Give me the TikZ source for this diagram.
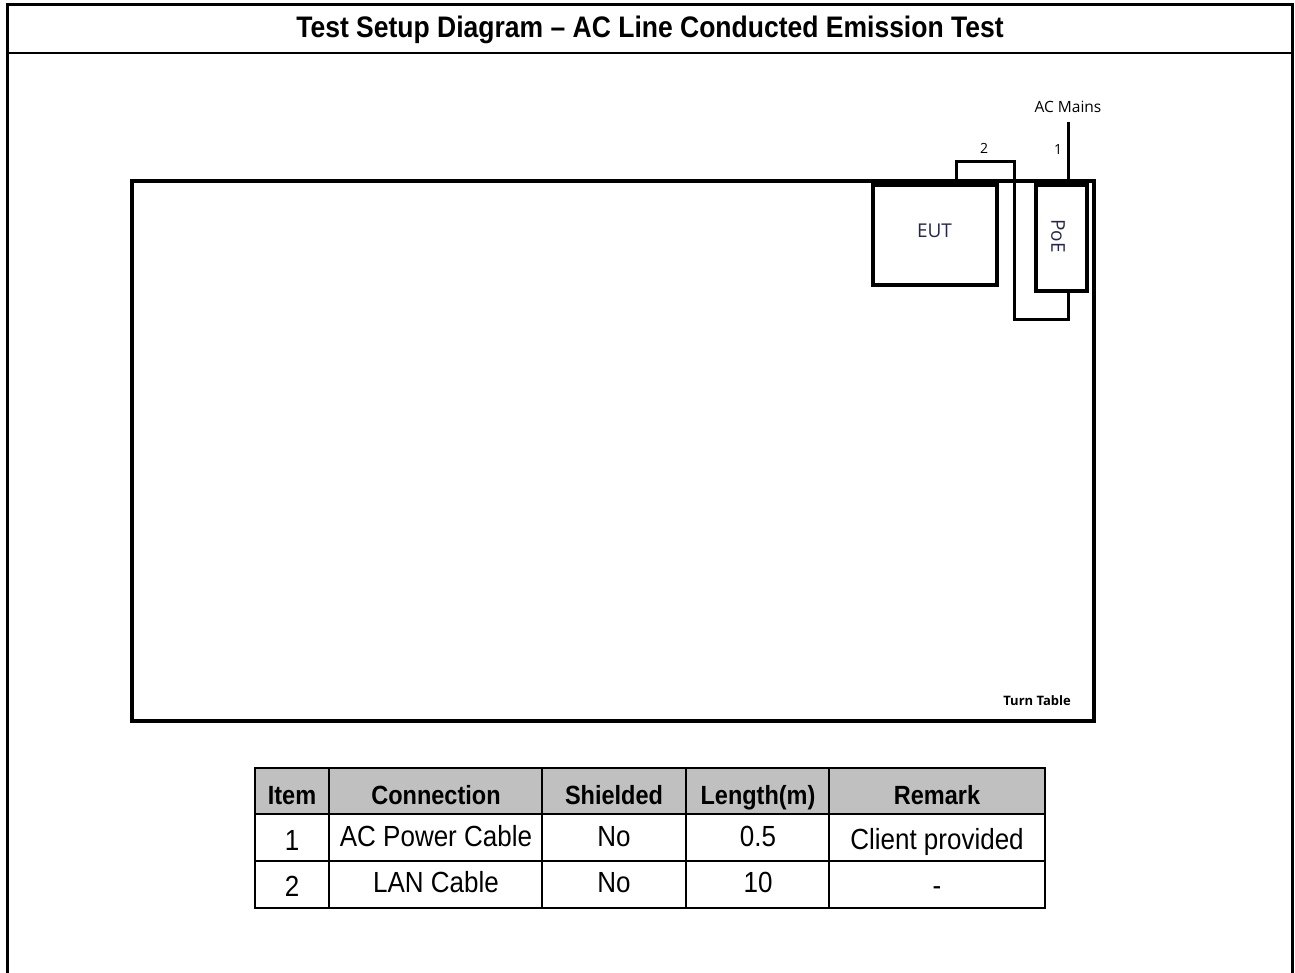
\documentclass[tikz,border=0pt]{standalone}
\usepackage{fontspec}
\usepackage{graphicx}
\setmainfont{Liberation Sans}
\newfontfamily\lblfont{Open Sans}
\definecolor{lblc}{RGB}{35,40,75}
\definecolor{hdrgray}{RGB}{192,192,192}
\newcommand\vstretch[1]{\scalebox{1}[1.12]{#1}}
\begin{document}
\begin{tikzpicture}[x=1pt,y=-1pt,
  boxst/.style={draw=black,line width=4pt,inner sep=0pt},
  cable/.style={draw=black,line width=3pt},
  lbl/.style={font=\lblfont\fontsize{19}{19}\selectfont,text=lblc,inner sep=0pt},
  smalllbl/.style={font=\lblfont\fontsize{14}{14}\selectfont,text=black,inner sep=0pt},
  hdr/.style={font=\bfseries\fontsize{23.5}{24}\selectfont,inner sep=0pt,anchor=base},
  cell/.style={font=\fontsize{26}{26}\selectfont,inner sep=0pt,anchor=base},
  grid/.style={draw=black,line width=1.8pt}]
\useasboundingbox (0,0) rectangle (1295,973);
\fill[white] (0,0) rectangle (1295,973);
% outer frame
\draw[line width=3pt] (7,973) -- (7,5) -- (1292,5) -- (1292,973);
\draw[line width=2pt] (7,53) -- (1292,53);
\node[font=\bfseries\fontsize{26.5}{27}\selectfont,inner sep=0pt,anchor=base] (title) at (650,38) {\vstretch{Test Setup Diagram -- AC Line Conducted Emission Test}};
% turn table
\node[boxst,minimum width=962pt,minimum height=540pt] (tt) at (613,451) {};
\node[font=\lblfont\bfseries\fontsize{13}{13}\selectfont,inner sep=0pt,anchor=base east] (ttl) at (1071,705) {Turn Table};
% EUT and PoE
\node[boxst,minimum width=124pt,minimum height=100pt] (eut) at (934.5,235) {};
\node[lbl] (eutl) at (934.5,231) {EUT};
\node[boxst,minimum width=51pt,minimum height=106pt] (poe) at (1061,238.5) {};
\node[lbl,rotate=-90] (poel) at (1058,236) {PoE};
% cable 2
\coordinate (c2a) at (956,162);
\coordinate (c2c) at (1014,320);
\draw[cable] (eut.north -| c2a) -- (c2a) -| (c2c) -| ([xshift=7pt]poe.south);
\node[smalllbl] (n2) at (984,148) {2};
% cable 1
\coordinate (acm) at (1068,122);
\draw[cable] ([xshift=7pt]poe.north) -- (acm);
\node[smalllbl] (n1) at (1058,150) {1};
\node[smalllbl,font=\lblfont\fontsize{15.5}{16}\selectfont,anchor=base] (acl) at (1068,113) {AC Mains};
% table
\fill[hdrgray] (255,768) rectangle (1045,814);
\draw[grid] (255,768) rectangle (1045,908);
\draw[grid] (255,814) -- (1045,814);
\draw[grid] (255,861) -- (1045,861);
\foreach \x in {329,542,686,829} \draw[grid] (\x,768) -- (\x,908);
\draw[line width=2.5pt] (254,908) -- (1046,908);
% header
\node[hdr] (h1) at (292,804) {\vstretch{Item}};
\node[hdr] (h2) at (436,804) {\vstretch{Connection}};
\node[hdr] (h3) at (614,804) {\vstretch{Shielded}};
\node[hdr] (h4) at (758,804) {\vstretch{Length(m)}};
\node[hdr] (h5) at (937,804) {\vstretch{Remark}};
% row 1
\node[cell] (r11) at (292,850) {\vstretch{1}};
\node[cell] (r12) at (436,846) {\vstretch{AC Power Cable}};
\node[cell] (r13) at (614,846) {\vstretch{No}};
\node[cell] (r14) at (758,846) {\vstretch{0.5}};
\node[cell] (r15) at (937,849) {\vstretch{Client provided}};
% row 2
\node[cell] (r21) at (292,896) {\vstretch{2}};
\node[cell] (r22) at (436,892) {\vstretch{LAN Cable}};
\node[cell] (r23) at (614,892) {\vstretch{No}};
\node[cell] (r24) at (758,892) {\vstretch{10}};
\node[cell] (r25) at (937,895) {\vstretch{-}};
\end{tikzpicture}
\end{document}
